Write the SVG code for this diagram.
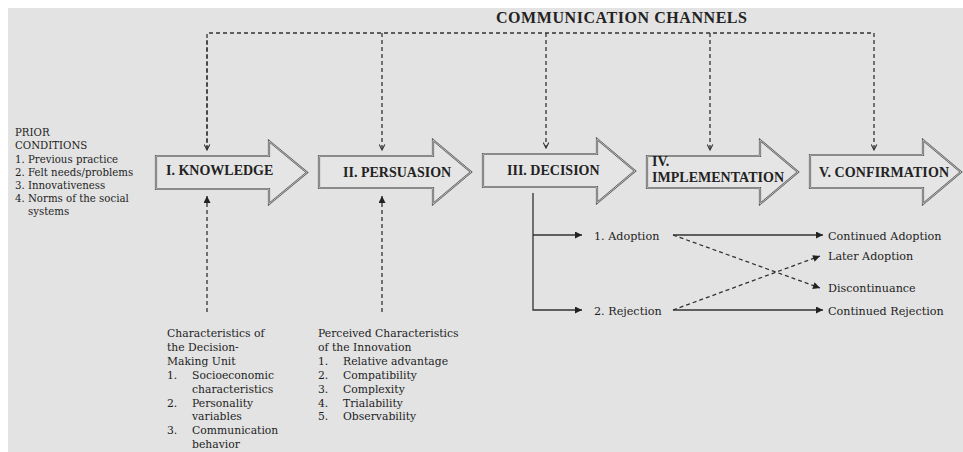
<svg xmlns="http://www.w3.org/2000/svg" width="963" height="452" viewBox="0 0 963 452">
  <defs>
    <marker id="tri" viewBox="0 0 10 10" refX="10" refY="5" markerWidth="9" markerHeight="7" markerUnits="userSpaceOnUse" orient="auto">
      <path d="M0,0 L10,5 L0,10 Z" fill="#222"/>
    </marker>
    <marker id="chev" viewBox="0 0 10 10" refX="9" refY="5" markerWidth="7" markerHeight="7" markerUnits="userSpaceOnUse" orient="auto">
      <path d="M1,1 L9,5 L1,9" fill="none" stroke="#333" stroke-width="1.6"/>
    </marker>
  </defs>
  <style>
    .bg { fill: #e3e3e3; }
    .arrow-out { fill: #e5e5e5; stroke: #5a5a5a; stroke-width: 2.2; stroke-linejoin: miter; stroke-miterlimit: 6; }
    .arrow-in { fill: none; stroke: #e5e5e5; stroke-width: 0.7; stroke-linejoin: miter; stroke-miterlimit: 6; }
    .lbl { font-family: "Liberation Serif", "Times New Roman", serif; font-weight: bold; font-size: 14px; fill: #222; }
    .txt { font-family: "DejaVu Serif", "Liberation Serif", serif; fill: #1e1e1e; }
    .left { font-size: 10.2px; }
    .bot { font-size: 10.8px; }
    .right { font-size: 11.2px; }
    .dash { fill: none; stroke: #333; stroke-width: 1.3; stroke-dasharray: 4 3; }
    .solid { fill: none; stroke: #333; stroke-width: 1.3; }
  </style>
  <rect x="0" y="0" width="963" height="452" fill="#ffffff"/>
  <rect class="bg" x="8" y="8" width="955" height="444"/>

  <text x="496" y="23" class="lbl" textLength="251" style="font-size:16px">COMMUNICATION CHANNELS</text>

  <g id="prior-conditions" class="txt left">
    <text x="15" y="136">PRIOR</text>
    <text x="15" y="149">CONDITIONS</text>
    <text x="15" y="163">1. Previous practice</text>
    <text x="15" y="176">2. Felt needs/problems</text>
    <text x="15" y="189">3. Innovativeness</text>
    <text x="15" y="202">4. Norms of the social</text>
    <text x="28" y="215">systems</text>
  </g>

  <g id="knowledge">
    <path class="arrow-out" d="M156,156 H269 V141 L307,172.5 L269,204 V189 H156 Z"/>
    <path class="arrow-in" d="M156,156 H269 V141 L307,172.5 L269,204 V189 H156 Z"/>
    <text class="lbl" x="166" y="175">I. KNOWLEDGE</text>
  </g>
  <g id="persuasion">
    <path class="arrow-out" d="M319,156 H433 V140 L471,172 L433,204 V188 H319 Z"/>
    <path class="arrow-in" d="M319,156 H433 V140 L471,172 L433,204 V188 H319 Z"/>
    <text class="lbl" x="343" y="177">II. PERSUASION</text>
  </g>
  <g id="decision">
    <path class="arrow-out" d="M483,154 H597 V139 L635,171 L597,203 V187 H483 Z"/>
    <path class="arrow-in" d="M483,154 H597 V139 L635,171 L597,203 V187 H483 Z"/>
    <text class="lbl" x="507" y="175">III. DECISION</text>
  </g>
  <g id="implementation">
    <path class="arrow-out" d="M647,156 H760 V140 L798,172 L760,204 V188 H647 Z"/>
    <path class="arrow-in" d="M647,156 H760 V140 L798,172 L760,204 V188 H647 Z"/>
    <text class="lbl" x="652" y="166">IV.</text>
    <text class="lbl" x="652" y="182" textLength="132">IMPLEMENTATION</text>
  </g>
  <g id="confirmation">
    <path class="arrow-out" d="M810,155 H923 V140 L961,172 L923,204 V188 H810 Z"/>
    <path class="arrow-in" d="M810,155 H923 V140 L961,172 L923,204 V188 H810 Z"/>
    <text class="lbl" x="819" y="177" textLength="130">V. CONFIRMATION</text>
  </g>

  <g id="adoption" class="txt right"><text x="594" y="240">1. Adoption</text></g>
  <g id="rejection" class="txt right"><text x="594" y="315">2. Rejection</text></g>
  <g id="continued-adoption" class="txt right"><text x="828" y="240">Continued Adoption</text></g>
  <g id="later-adoption" class="txt right"><text x="828" y="260">Later Adoption</text></g>
  <g id="discontinuance" class="txt right"><text x="828" y="292">Discontinuance</text></g>
  <g id="continued-rejection" class="txt right"><text x="828" y="315">Continued Rejection</text></g>

  <g id="decision-unit" class="txt bot">
    <text x="167" y="337">Characteristics of</text>
    <text x="167" y="351">the Decision-</text>
    <text x="167" y="365">Making Unit</text>
    <text x="167" y="379">1.</text><text x="192" y="379">Socioeconomic</text>
    <text x="192" y="393">characteristics</text>
    <text x="167" y="407">2.</text><text x="192" y="407">Personality</text>
    <text x="192" y="420">variables</text>
    <text x="167" y="434">3.</text><text x="192" y="434">Communication</text>
    <text x="192" y="448">behavior</text>
  </g>

  <g id="innovation-characteristics" class="txt bot">
    <text x="318" y="337">Perceived Characteristics</text>
    <text x="318" y="351">of the Innovation</text>
    <text x="318" y="365">1.</text><text x="343" y="365">Relative advantage</text>
    <text x="318" y="379">2.</text><text x="343" y="379">Compatibility</text>
    <text x="318" y="393">3.</text><text x="343" y="393">Complexity</text>
    <text x="318" y="407">4.</text><text x="343" y="407">Trialability</text>
    <text x="318" y="420">5.</text><text x="343" y="420">Observability</text>
  </g>

  <g id="connectors">
    <path class="dash" d="M207,150 V33 H874 V150" marker-end="url(#chev)"/>
    <path class="dash" d="M207,40 V150" marker-end="url(#chev)"/>
    <path class="dash" d="M382,33 V150" marker-end="url(#chev)"/>
    <path class="dash" d="M546,33 V148" marker-end="url(#chev)"/>
    <path class="dash" d="M710,33 V150" marker-end="url(#chev)"/>
    <path class="dash" d="M207,312 V196" marker-end="url(#tri)"/>
    <path class="dash" d="M382,312 V196" marker-end="url(#tri)"/>
    <path class="solid" d="M533,193 V310 H582" marker-end="url(#tri)"/>
    <path class="solid" d="M533,235 H582" marker-end="url(#tri)"/>
    <path class="solid" d="M673,235 H823" marker-end="url(#tri)"/>
    <path class="solid" d="M673,310 H823" marker-end="url(#tri)"/>
    <path class="dash" d="M673,235 L820,288" marker-end="url(#tri)"/>
    <path class="dash" d="M673,310 L820,256" marker-end="url(#tri)"/>
  </g>
</svg>
